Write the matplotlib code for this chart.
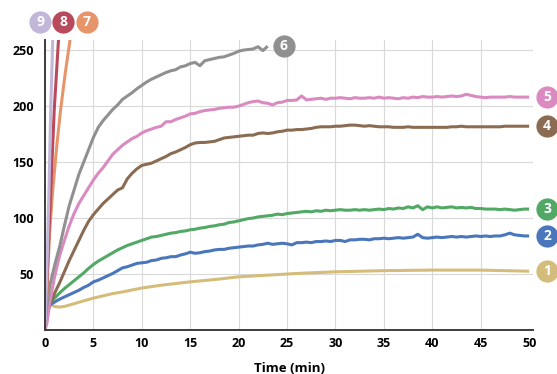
import numpy as np
import matplotlib
matplotlib.use("Agg")
import matplotlib.pyplot as plt
import matplotlib.transforms as mtransforms

plt.rcParams['font.family'] = ['Open Sans', 'DejaVu Sans']

# sampling times for the noisy traces: 0, 0.2, then every half minute
t_main = np.concatenate([[0, 0.2], np.arange(0.5, 50.01, 0.5)])

# 1 - smooth
t1 = [0, 0.15, 0.3, 0.6, 1, 1.5, 2, 3, 4, 5, 6, 7, 8, 10, 12, 15, 18, 20, 23, 26,
      30, 35, 40, 45, 50]
v1 = [0, 12, 21, 22.5, 21, 20.5, 21, 23.5, 26, 28.5, 30.5, 32.5, 34, 37.5, 40, 43,
      45.5, 47.5, 49, 50.5, 52, 53, 53.5, 53.5, 52.5]

v2 = [15, 21,
      22.5, 25, 27.5, 29.5, 31.5, 33.5, 35.5, 38, 40, 43,
      44.5, 46.5, 48.5, 50.5, 53, 55.5, 56.5, 58, 59.5, 60,
      60.5, 62, 62.5, 64, 64.5, 65.5, 65.5, 67, 68, 69.5,
      68.5, 69, 70, 70.5, 71.5, 72, 72, 73, 73.5, 74,
      74.5, 75, 75, 76, 76.5, 77.5, 76.5, 77, 77.5, 77,
      76, 78, 78, 78.5, 78, 79, 79, 79.5, 79, 80,
      80, 79, 80.5, 80.5, 81, 81, 80.5, 81.5, 81.5, 82,
      81.5, 82, 82.5, 82, 82.5, 83, 85.5, 82.5, 82, 82.5,
      83, 82.5, 83, 83.5, 83, 83.5, 83, 83.5, 84, 83.5,
      84, 83.5, 84, 84, 85, 86.5, 85, 84.5, 84, 84]

v3 = [15, 21,
      24, 28.5, 33, 37, 40.5, 44, 47.5, 51, 55, 58.5,
      61.5, 64, 66.5, 69, 71.5, 73.5, 75.5, 77, 78.5, 80,
      81.5, 83, 83.5, 84.5, 85.5, 86.5, 87, 88, 88.5, 89.5,
      90, 91, 91.5, 92.5, 93, 94, 94.5, 96, 96.5, 97.5,
      98.5, 99.5, 100, 101, 101.5, 102, 102.5, 103.5, 103, 104,
      104.5, 105, 105.5, 106, 105.5, 106.5, 106, 107, 106.5, 107,
      107.5, 107, 107, 107.5, 107, 107.5, 107, 107.5, 108, 107.5,
      108.5, 108, 109, 108.5, 110, 109, 111, 107.5, 110, 109,
      110, 109, 109.5, 110, 109, 109.5, 109, 109.5, 108.5, 108.5,
      108, 108, 108, 107.5, 108, 107.5, 107, 107.5, 108, 108]

v4 = [5, 14,
      22, 33, 42, 52, 62, 71, 80, 89, 97, 103,
      108, 113, 117, 121, 125, 127, 135, 140, 144, 147,
      148, 149, 151, 153, 155, 157.5, 159, 161, 163, 165.5,
      167, 167.5, 167.5, 168, 168.5, 170, 171.5, 172, 172.5, 173,
      173.5, 174, 174, 175.5, 176, 175.5, 176, 177, 177.5, 178.5,
      178.5, 179, 179, 179.5, 180, 181, 181.5, 181.5, 181.5, 182,
      182, 182.5, 183, 183, 182.5, 182, 182.5, 182, 181.5, 181.5,
      181.5, 181, 181, 181, 181.5, 181, 181, 181, 181, 181,
      181, 181, 181, 181.5, 181.5, 182, 181.5, 181.5, 181.5, 181.5,
      181.5, 181.5, 181.5, 181.5, 182, 182, 182, 182, 182, 182]

v5 = [0, 6,
      25, 48, 66, 80, 93, 104, 113, 120, 127, 134,
      140, 145, 151, 157, 161, 165, 168, 171, 173, 176,
      178, 179.5, 181, 182, 186, 186, 188, 189.5, 191, 193,
      193.5, 195, 196, 196.5, 197, 198, 198.5, 199, 199, 200,
      201.5, 203, 204, 204.5, 203, 202.5, 201, 203, 203.5, 205,
      205, 205.5, 209, 205.5, 206, 206.5, 207, 206, 207, 207,
      207.5, 207, 206.5, 207.5, 207, 207, 207.5, 207, 208, 207,
      207.5, 207, 206.5, 207.5, 207, 208, 207.5, 208.5, 208, 208,
      208.5, 208, 208.5, 209, 208.5, 209, 210.5, 209.5, 208.5, 208,
      207.5, 208, 208, 208, 208, 208.5, 208, 208, 208, 208]

# 6 - stops at 23 min
v6 = [10, 22,
      40, 58, 74, 93, 111, 125, 139, 150, 161, 172,
      181, 187, 192, 197, 201, 206, 209, 212, 215.5, 218.5,
      221.5, 224, 226, 228, 230, 231.5, 232.5, 235, 236, 238,
      239, 236, 240.5, 241.5, 242.5, 243.5, 244, 245.5, 247, 249,
      250, 250.5, 251, 253, 249.5, 253.5]
t6 = t_main[:len(v6)]

# 7-9 - shoot off the top
t7 = [0, 0.1, 0.3, 0.5, 0.8, 1.2, 1.6, 2.1, 2.6, 2.8]
v7 = [0, 15, 55, 90, 125, 163, 196, 230, 260, 272]
t8 = [0, 0.1, 0.3, 0.6, 0.95, 1.4, 1.5]
v8 = [0, 20, 65, 125, 196, 260, 275]
t9 = [0, 0.1, 0.25, 0.41, 0.59, 0.8, 0.85]
v9 = [0, 25, 70, 125, 196, 260, 275]

colors = {1: '#d4bd7b', 2: '#4a76bb', 3: '#52a865', 4: '#8b6c52', 5: '#da8ac0',
          6: '#909090', 7: '#e6956b', 8: '#b94a5c', 9: '#c2b6d9'}
series = [(1, t1, v1), (2, t_main, v2), (3, t_main, v3), (4, t_main, v4),
          (5, t_main, v5), (6, t6, v6), (7, t7, v7), (8, t8, v8), (9, t9, v9)]
top_label_x = {9: -0.5, 8: 1.9, 7: 4.3}   # circles above the plot
top_label_y = 275

fig = plt.figure(figsize=(5.57, 3.74), dpi=100)
ax = fig.add_axes([45/557, 1-330/374, 488/557, 290/374])

for k, t, v in series:
    ax.plot(t, v, color=colors[k], lw=2.2, solid_capstyle='butt')

ax.set_xlim(0, 50.4)
ax.set_ylim(0, 259)
ax.set_xticks(range(0, 51, 5))
ax.set_yticks([50, 100, 150, 200, 250])
ax.grid(color='#d9d9d9', lw=0.8)
ax.xaxis.get_gridlines()[-1].set_visible(False)   # no line at 50
ax.set_axisbelow(True)
for s in ('top', 'right'):
    ax.spines[s].set_visible(False)
for s in ('left', 'bottom'):
    ax.spines[s].set_color('#3c3c3c')
    ax.spines[s].set_linewidth(1.4)
ax.tick_params(length=0, labelsize=9, colors='black')
ax.tick_params(axis='x', pad=5)
ax.tick_params(axis='y', pad=8)
for lab in ax.get_xticklabels() + ax.get_yticklabels():
    lab.set_fontweight('bold')
ax.set_xlabel('Time (min)', fontsize=9.5, fontweight='bold', labelpad=9)

def badge(x, y, k, dx=0):
    tr = mtransforms.offset_copy(ax.transData, fig=fig, x=dx, y=0, units='points')
    ax.plot([x], [y], 'o', ms=16, color=colors[k], mec='none', transform=tr, clip_on=False)
    ax.text(x, y, str(k), transform=tr, ha='center', va='center', color='white',
            fontsize=10, fontweight='bold', clip_on=False)

for k, t, v in series:
    if k in top_label_x:
        badge(top_label_x[k], top_label_y, k)
    else:
        badge(t[-1], v[-1], k, dx=13 if k != 6 else 11.5)

fig.savefig('out.png', dpi=100)
